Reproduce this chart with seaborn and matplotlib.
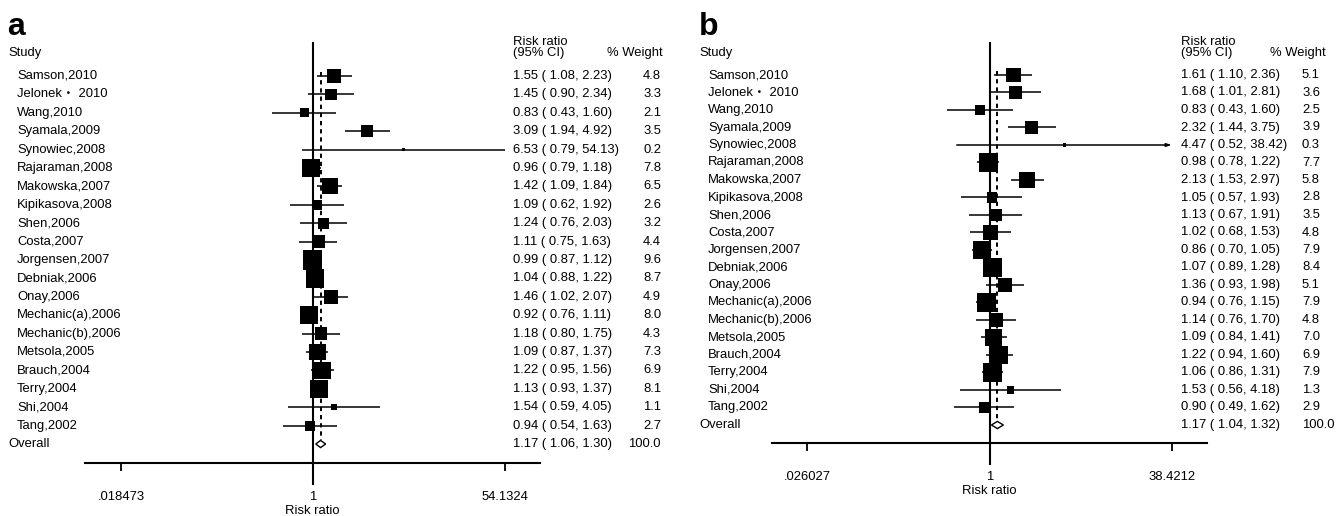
import numpy as np
import pandas as pd
import matplotlib
matplotlib.use("Agg")
import matplotlib.pyplot as plt
import matplotlib.transforms as mtransforms
from matplotlib.patches import Polygon
from matplotlib.ticker import NullLocator
import seaborn as sns

# ---------------- data ----------------
studies = [
    "Samson,2010", "Jelonek\u30fb 2010", "Wang,2010", "Syamala,2009", "Synowiec,2008",
    "Rajaraman,2008", "Makowska,2007", "Kipikasova,2008", "Shen,2006", "Costa,2007",
    "Jorgensen,2007", "Debniak,2006", "Onay,2006", "Mechanic(a),2006", "Mechanic(b),2006",
    "Metsola,2005", "Brauch,2004", "Terry,2004", "Shi,2004", "Tang,2002",
]

rr_a = [1.55, 1.45, 0.83, 3.09, 6.53, 0.96, 1.42, 1.09, 1.24, 1.11,
        0.99, 1.04, 1.46, 0.92, 1.18, 1.09, 1.22, 1.13, 1.54, 0.94]
lo_a = [1.08, 0.90, 0.43, 1.94, 0.79, 0.79, 1.09, 0.62, 0.76, 0.75,
        0.87, 0.88, 1.02, 0.76, 0.80, 0.87, 0.95, 0.93, 0.59, 0.54]
hi_a = [2.23, 2.34, 1.60, 4.92, 54.13, 1.18, 1.84, 1.92, 2.03, 1.63,
        1.12, 1.22, 2.07, 1.11, 1.75, 1.37, 1.56, 1.37, 4.05, 1.63]
wt_a = [4.8, 3.3, 2.1, 3.5, 0.2, 7.8, 6.5, 2.6, 3.2, 4.4,
        9.6, 8.7, 4.9, 8.0, 4.3, 7.3, 6.9, 8.1, 1.1, 2.7]
overall_a = [1.17, 1.06, 1.30, 100.0]
ticks_a = [0.018473, 1, 54.1324]
tick_labels_a = [".018473", "1", "54.1324"]

rr_b = [1.61, 1.68, 0.83, 2.32, 4.47, 0.98, 2.13, 1.05, 1.13, 1.02,
        0.86, 1.07, 1.36, 0.94, 1.14, 1.09, 1.22, 1.06, 1.53, 0.90]
lo_b = [1.10, 1.01, 0.43, 1.44, 0.52, 0.78, 1.53, 0.57, 0.67, 0.68,
        0.70, 0.89, 0.93, 0.76, 0.76, 0.84, 0.94, 0.86, 0.56, 0.49]
hi_b = [2.36, 2.81, 1.60, 3.75, 38.42, 1.22, 2.97, 1.93, 1.91, 1.53,
        1.05, 1.28, 1.98, 1.15, 1.70, 1.41, 1.60, 1.31, 4.18, 1.62]
wt_b = [5.1, 3.6, 2.5, 3.9, 0.3, 7.7, 5.8, 2.8, 3.5, 4.8,
        7.9, 8.4, 5.1, 7.9, 4.8, 7.0, 6.9, 7.9, 1.3, 2.9]
overall_b = [1.17, 1.04, 1.32, 100.0]
ticks_b = [0.026027, 1, 38.4212]
tick_labels_b = [".026027", "1", "38.4212"]

# ---------------- style ----------------
sns.set_style("white")
plt.rcParams["font.family"] = ["Liberation Sans", "Noto Sans CJK SC"]
plt.rcParams["text.color"] = "black"
FS = 9.4

W, H = 1337, 516
fig = plt.figure(figsize=(W / 100, H / 100), dpi=100)


def draw_panel(letter, rr, lo, hi, wt, overall, ticks, tick_labels, lay):
    # axis geometry in figure pixels
    x0, x1 = lay["axis_x"]
    ybot = lay["axis_y"]
    tl, tr = lay["tick_px"]
    ln_span = np.log(ticks[-1]) - np.log(ticks[0])
    ppl = (tr - tl) / ln_span
    one_px = tl - np.log(ticks[0]) * ppl
    xlim = (np.exp((x0 - one_px) / ppl), np.exp((x1 - one_px) / ppl))

    ax = fig.add_axes([x0 / W, 1 - ybot / H, (x1 - x0) / W, ybot / H])
    ax.set_xscale("log")
    ax.set_xlim(*xlim)
    ax.set_ylim(ybot, 0)
    for side in ("top", "left", "right"):
        ax.spines[side].set_visible(False)
    ax.spines["bottom"].set_linewidth(1.5)
    ax.spines["bottom"].set_color("black")
    ax.set_yticks([])
    ax.set_xticks(ticks)
    ax.set_xticklabels(tick_labels)
    ax.xaxis.set_minor_locator(NullLocator())
    ax.tick_params(axis="x", bottom=True, direction="out", length=5.8, width=1.3,
                   pad=14, labelsize=FS, colors="black")
    ax.patch.set_alpha(0)

    n = len(rr)
    ys = lay["row0"] + np.arange(n + 1) * lay["row_step"]
    y_rows, y_ov = ys[:n], ys[n]

    # reference line at 1 and dashed line at the pooled estimate
    ax.plot([1, 1], [42, ybot + 22], color="black", lw=1.5, clip_on=False,
            solid_capstyle="butt", zorder=1)
    ax.plot([overall[0]] * 2, [lay["row0"] - 4, y_ov - 4], color="black", lw=1.4,
            ls=(0, (2.2, 2.0)), zorder=1)

    # confidence intervals (arrow where the interval reaches the axis end)
    for y, l, h in zip(y_rows, lo, hi):
        if letter == "b" and abs(h - ticks[-1]) < 0.01:
            ax.annotate("", xy=(h, y), xytext=(l, y),
                        arrowprops=dict(arrowstyle="-|>,head_length=0.3,head_width=0.09",
                                        lw=1.1, color="black", shrinkA=0, shrinkB=0))
        else:
            ax.hlines(y, l, h, color="black", lw=1.1, zorder=2)

    # weighted squares
    side_pt = lay["box_k"] * np.sqrt(np.array(wt)) * 0.72
    df = pd.DataFrame({"rr": rr, "y": y_rows})
    sns.scatterplot(data=df, x="rr", y="y", marker="s", s=side_pt ** 2, color="black",
                    edgecolor="black", linewidth=0, ax=ax, legend=False, zorder=3)
    ax.set_xlabel("Risk ratio", fontsize=FS, labelpad=2, color="black")
    ax.set_ylabel("")

    # pooled diamond
    hh = 3.6
    ax.add_patch(Polygon([(overall[1], y_ov), (overall[0], y_ov - hh),
                          (overall[2], y_ov), (overall[0], y_ov + hh)],
                         closed=True, fill=False, edgecolor="black", lw=1.0, zorder=4))

    # text columns
    tr_ = mtransforms.blended_transform_factory(fig.transFigure, ax.transData)
    kw = dict(transform=tr_, fontsize=FS, va="center", color="black", clip_on=False)
    fig.text(lay["letter_x"] / W, 1 - 35 / H, letter, fontsize=23, fontweight="bold",
             va="baseline", ha="left", color="black")
    ax.text(lay["study_x"] / W, 53, "Study", **kw)
    ax.text(lay["ci_x"] / W, 42, "Risk ratio", **kw)
    ax.text(lay["ci_x"] / W, 53, "(95% CI)", **kw)
    ax.text(lay["wh_x"] / W, 53, "% Weight", **kw)
    for y, s, r, l, h, w in zip(y_rows, studies, rr, lo, hi, wt):
        ax.text(lay["name_x"] / W, y, s, **kw)
        ax.text(lay["ci_x"] / W, y, f"{r:.2f} ( {l:.2f}, {h:.2f})", **kw)
        ax.text(lay["w_x"] / W, y, f"{w:.1f}", ha=lay["w_ha"], **kw)
    ax.text(lay["study_x"] / W, y_ov, "Overall", **kw)
    ax.text(lay["ci_x"] / W, y_ov, f"{overall[0]:.2f} ( {overall[1]:.2f}, {overall[2]:.2f})", **kw)
    ax.text(lay["w_x"] / W, y_ov, f"{overall[3]:.1f}", ha=lay["w_ha"], **kw)
    return ax


layout_a = dict(axis_x=(85, 540), axis_y=463, tick_px=(121, 505), row0=76, row_step=18.4,
                box_k=6.2, letter_x=7, study_x=8, name_x=17, ci_x=513, wh_x=607,
                w_x=661, w_ha="right")
layout_b = dict(axis_x=(772, 1207), axis_y=443, tick_px=(807, 1172), row0=75, row_step=17.5,
                box_k=6.5, letter_x=699, study_x=699, name_x=708, ci_x=1181, wh_x=1270,
                w_x=1302, w_ha="left")

draw_panel("a", rr_a, lo_a, hi_a, wt_a, overall_a, ticks_a, tick_labels_a, layout_a)
draw_panel("b", rr_b, lo_b, hi_b, wt_b, overall_b, ticks_b, tick_labels_b, layout_b)

fig.savefig("out.png", dpi=100, facecolor="white")
